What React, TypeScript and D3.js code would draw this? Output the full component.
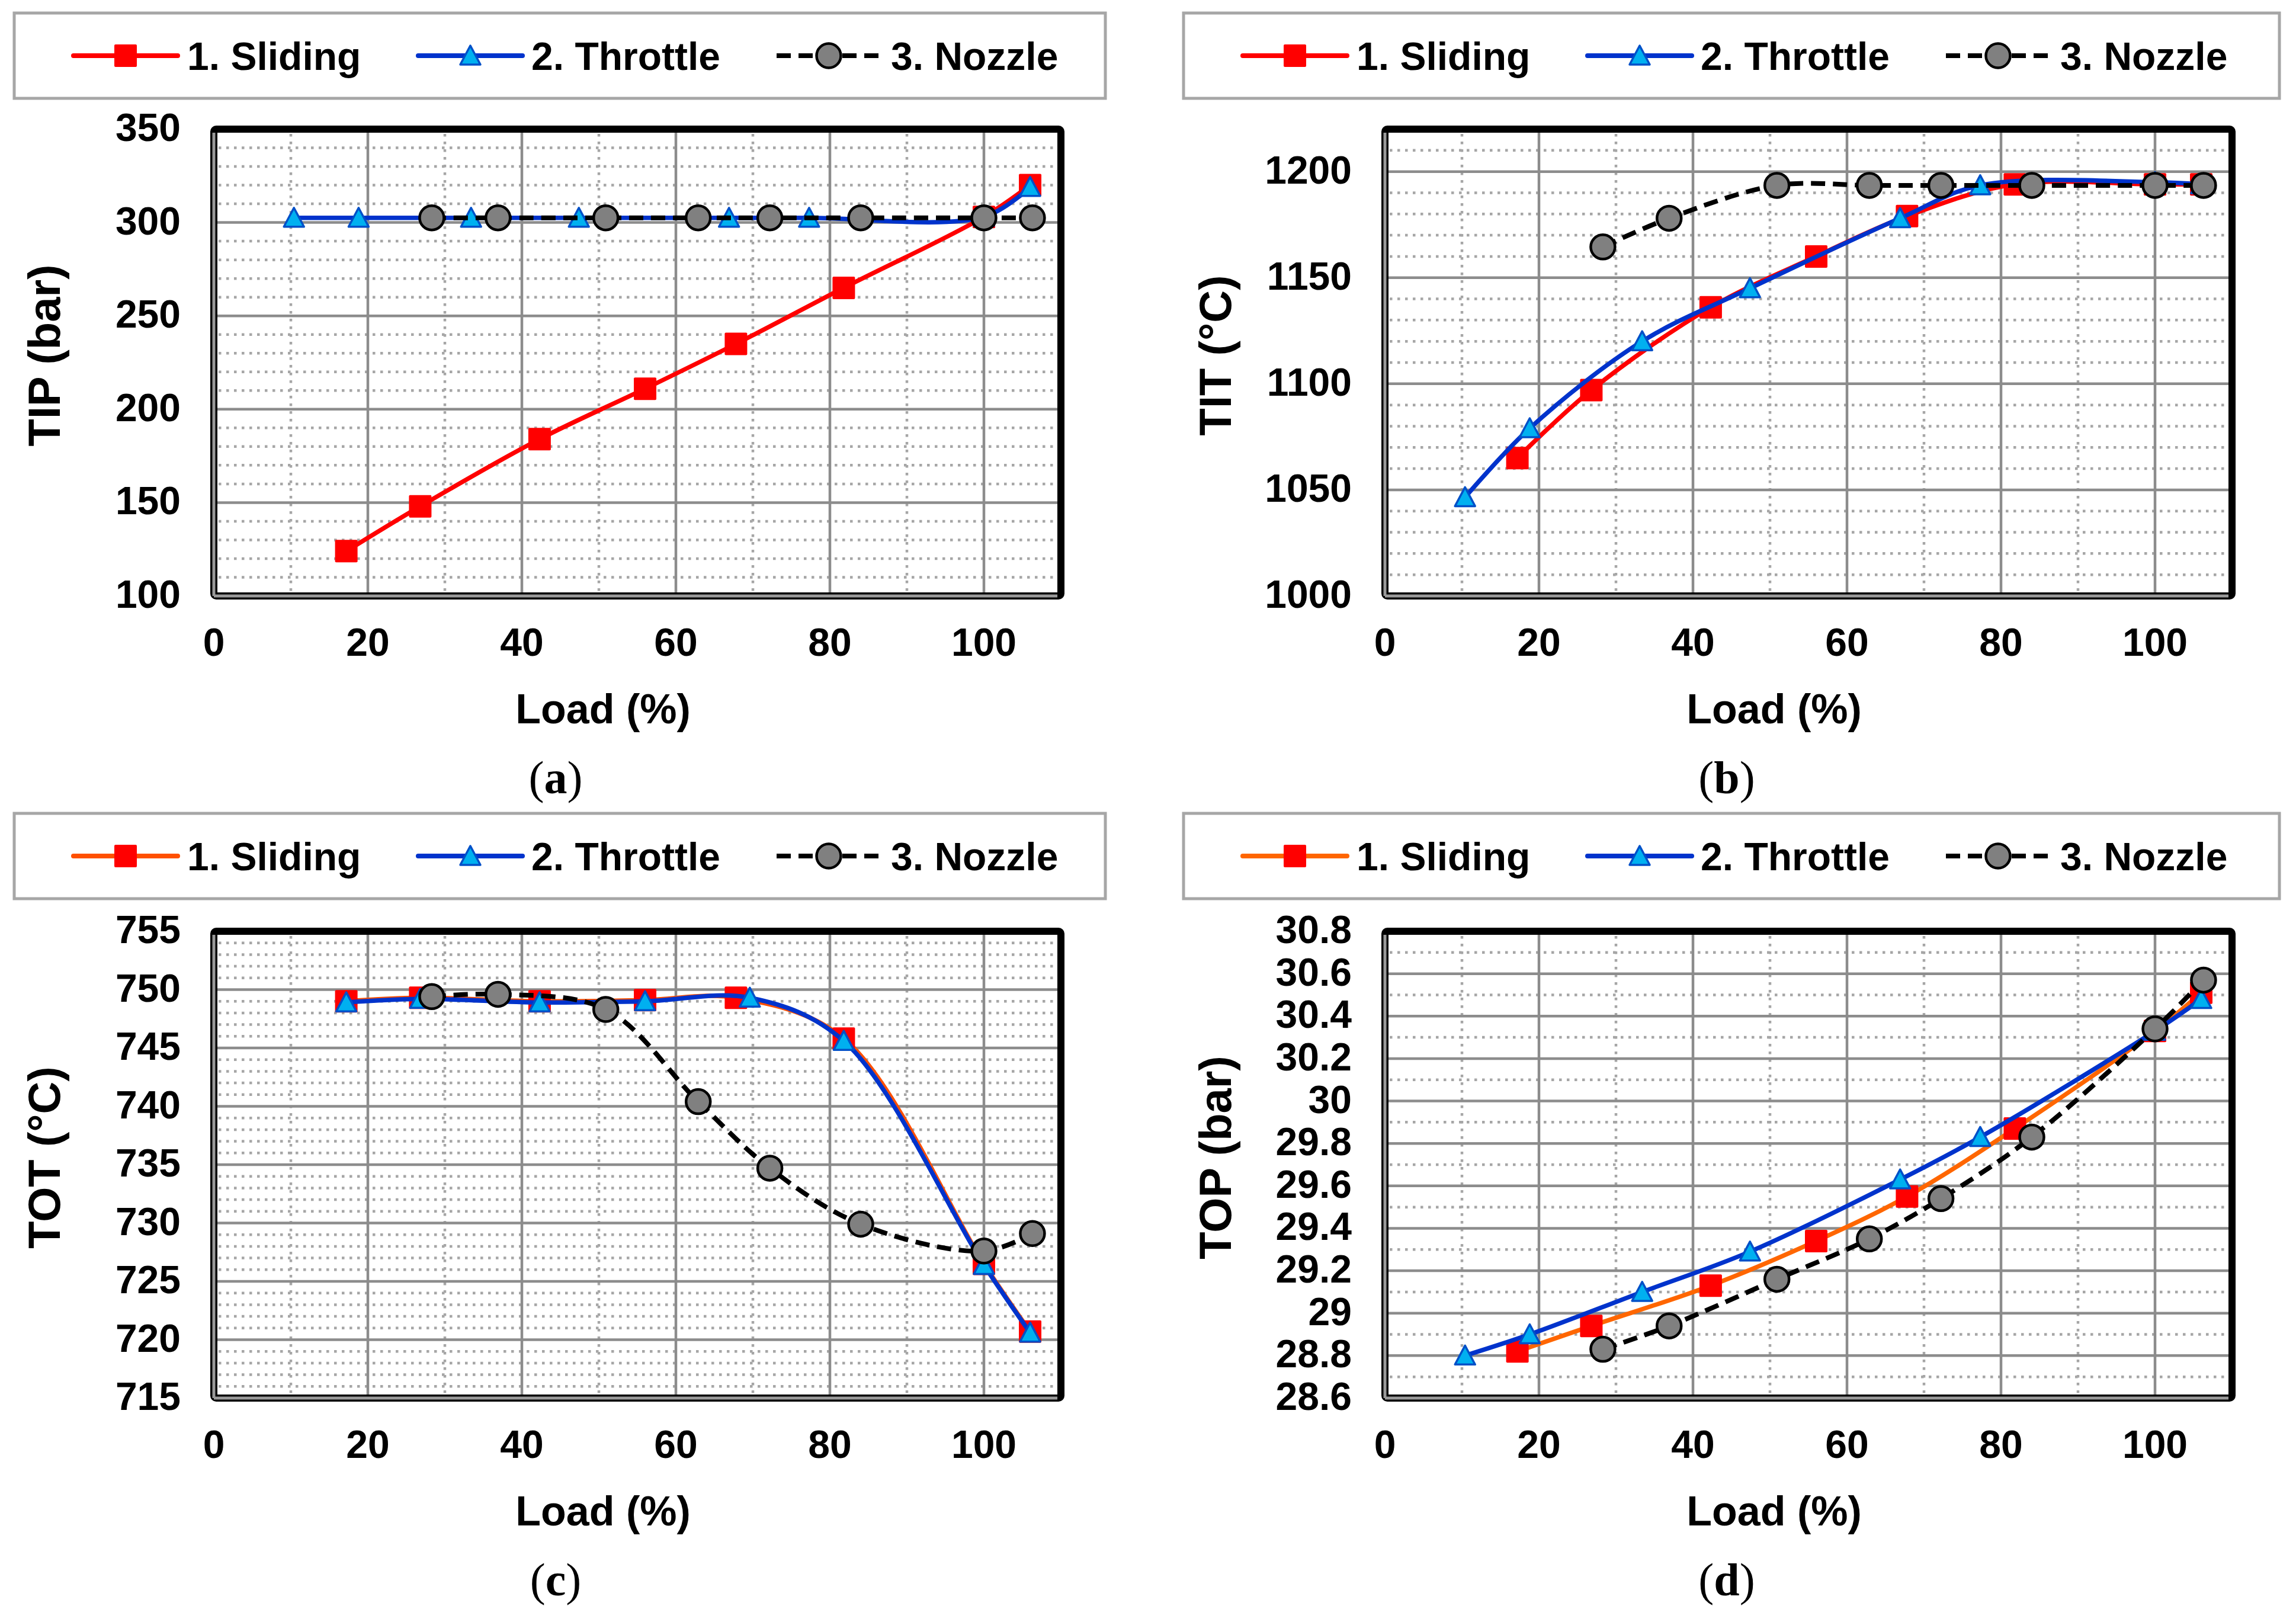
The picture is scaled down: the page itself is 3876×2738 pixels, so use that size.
import * as d3 from "d3";

const W = 3876;
const H = 2738;
const FONT = "'Liberation Sans', Arial, Helvetica, sans-serif";
const SERIF = "'Liberation Serif', 'Times New Roman', serif";

// load (%) positions
const loadSliding = [17.2, 26.8, 42.3, 56.0, 67.8, 81.8, 100, 106];
const loadThrottle = [10.4, 18.8, 33.4, 47.4, 66.9, 77.3, 100, 106];
const loadThrottleTot = [17.2, 26.8, 42.3, 56.0, 69.6, 81.8, 100, 106];
const loadNozzle = [28.3, 36.9, 50.9, 62.9, 72.2, 84.0, 100, 106.3];

// (a) TIP (bar)
const tipSliding = [124, 148, 184, 211, 235, 265, 303, 320];
const tipThrottle = [302.5, 302.5, 302.5, 302.5, 302.5, 302.5, 303, 319];
const tipNozzle = [302.5, 302.5, 302.5, 302.5, 302.5, 302.5, 302.5, 302.5];
const tipTicks = [100, 150, 200, 250, 300, 350];

// (b) TIT (°C)
const titSliding = [1065, 1097, 1136, 1160, 1179, 1194, 1194, 1194];
const titThrottle = [1046.5, 1079, 1120, 1145, 1178, 1193.5, 1195, 1194];
const titNozzle = [1164.5, 1178, 1193.5, 1193.5, 1193.5, 1193.5, 1193.5, 1193.5];
const titTicks = [1000, 1050, 1100, 1150, 1200];

// (c) TOT (°C)
const totSliding = [749.0, 749.3, 749.0, 749.1, 749.3, 745.8, 726.5, 720.7];
const totThrottle = [748.9, 749.2, 748.9, 749.0, 749.3, 745.6, 726.4, 720.6];
const totNozzle = [749.4, 749.6, 748.3, 740.4, 734.7, 729.9, 727.6, 729.1];
const totTicks = [715, 720, 725, 730, 735, 740, 745, 750, 755];

// (d) TOP (bar)
const topSliding = [28.82, 28.94, 29.13, 29.34, 29.55, 29.87, 30.33, 30.51];
const topThrottle = [28.8, 28.9, 29.1, 29.29, 29.63, 29.83, 30.33, 30.48];
const topNozzle = [28.83, 28.94, 29.16, 29.35, 29.54, 29.83, 30.34, 30.57];
const topTicks = [28.6, 28.8, 29, 29.2, 29.4, 29.6, 29.8, 30, 30.2, 30.4, 30.6, 30.8];

const xTicks = [0, 20, 40, 60, 80, 100];
const legendLabels = ["1. Sliding", "2. Throttle", "3. Nozzle"];

const RED = "#ff0000";
const BLUE = "#0033cc";
const CYAN = "#00b0f0";
const GREY = "#808080";
const DASH = "24 13";

interface PanelSpec {
  letter: string;
  yTitle: string;
  yDomain: [number, number];
  yTicks: number[];
  yMinor: number;
  slidingColor: string;
  sliding: [number[], number[]];
  throttle: [number[], number[]];
  nozzle: [number[], number[]];
  col: number;
  row: number;
}

const panels: PanelSpec[] = [
  {
    letter: "a", yTitle: "TIP (bar)", yDomain: [100, 350], yTicks: tipTicks, yMinor: 10,
    slidingColor: RED,
    sliding: [loadSliding, tipSliding], throttle: [loadThrottle, tipThrottle], nozzle: [loadNozzle, tipNozzle],
    col: 0, row: 0,
  },
  {
    letter: "b", yTitle: "TIT (°C)", yDomain: [1000, 1220], yTicks: titTicks, yMinor: 10,
    slidingColor: RED,
    sliding: [loadSliding, titSliding], throttle: [loadThrottle, titThrottle], nozzle: [loadNozzle, titNozzle],
    col: 1, row: 0,
  },
  {
    letter: "c", yTitle: "TOT (°C)", yDomain: [715, 755], yTicks: totTicks, yMinor: 1,
    slidingColor: "#ff5000",
    sliding: [loadSliding, totSliding], throttle: [loadThrottleTot, totThrottle], nozzle: [loadNozzle, totNozzle],
    col: 0, row: 1,
  },
  {
    letter: "d", yTitle: "TOP (bar)", yDomain: [28.6, 30.8], yTicks: topTicks, yMinor: 0.1,
    slidingColor: "#ff6600",
    sliding: [loadSliding, topSliding], throttle: [loadThrottle, topThrottle], nozzle: [loadNozzle, topNozzle],
    col: 1, row: 1,
  },
];

const COL_LEFT = [361, 2338];
const PLOT_W = 1430;
const ROW_TOP = [218, 1572];
const PLOT_H = 788;
const LEGEND_X = [24, 1998];
const LEGEND_W = [1842, 1850];
const LEGEND_Y = [22, 1373];
const LEGEND_H = 144;

const fmt = (v: number) => String(+v.toFixed(2));

function Square({ x, y }: { x: number; y: number }) {
  return <rect x={x - 19} y={y - 19} width={38} height={38} rx={2} fill={RED} />;
}

function Triangle({ x, y }: { x: number; y: number }) {
  return (
    <path
      d={`M${x},${y - 17} L${x + 17},${y + 15} L${x - 17},${y + 15} Z`}
      fill={CYAN}
      stroke="#0050c8"
      strokeWidth={3.5}
      strokeLinejoin="round"
    />
  );
}

function Dot({ x, y }: { x: number; y: number }) {
  return <circle cx={x} cy={y} r={20.5} fill={GREY} stroke="#000" strokeWidth={4.5} />;
}

function Panel({ p }: { p: PanelSpec }) {
  const left = COL_LEFT[p.col];
  const right = left + PLOT_W;
  const top = ROW_TOP[p.row];
  const bottom = top + PLOT_H;

  const x = d3.scaleLinear().domain([0, 110]).range([left, right]);
  const y = d3.scaleLinear().domain(p.yDomain).range([bottom, top]);

  const line = d3
    .line<[number, number]>()
    .x((d) => x(d[0]))
    .y((d) => y(d[1]))
    .curve(d3.curveCatmullRom.alpha(0.5));

  const pts = (s: [number[], number[]]) => s[0].map((l, i) => [l, s[1][i]] as [number, number]);

  const [y0, y1] = p.yDomain;
  const nMinor = Math.round((y1 - y0) / p.yMinor);
  const minorY = d3.range(1, nMinor).map((i) => y0 + i * p.yMinor)
    .filter((v) => !p.yTicks.some((t) => Math.abs(t - v) < p.yMinor / 10));
  const majorY = p.yTicks.filter((t) => t > y0 && t < y1);
  const minorX = [10, 30, 50, 70, 90];
  const majorX = [20, 40, 60, 80, 100];

  // legend
  const lx = LEGEND_X[p.col];
  const ly = LEGEND_Y[p.row];
  const cy = ly + LEGEND_H / 2;
  const items = [
    { lineStart: 100, textStart: 292, color: p.slidingColor, dash: undefined, marker: "sq" },
    { lineStart: 682, textStart: 873, color: BLUE, dash: undefined, marker: "tri" },
    { lineStart: 1287, textStart: 1480, color: "#000", dash: DASH, marker: "dot" },
  ];

  return (
    <g>
      {/* legend box */}
      <rect x={lx} y={ly} width={LEGEND_W[p.col]} height={LEGEND_H} fill="#fff" stroke="#a6a6a6" strokeWidth={5} />
      {items.map((it, i) => {
        const xs = lx + it.lineStart;
        const mx = xs + 88;
        return (
          <g key={i}>
            <line x1={xs} x2={xs + 176} y1={cy} y2={cy} stroke={it.color} strokeWidth={8} strokeDasharray={it.dash} strokeLinecap={it.dash ? "butt" : "round"} />
            {it.marker === "sq" && <Square x={mx} y={cy} />}
            {it.marker === "tri" && <Triangle x={mx} y={cy} />}
            {it.marker === "dot" && <Dot x={mx} y={cy} />}
            <text x={lx + it.textStart} y={cy + 24} fontFamily={FONT} fontWeight="bold" fontSize={66} fill="#000">
              {legendLabels[i]}
            </text>
          </g>
        );
      })}

      {/* plot background & grid */}
      <rect x={left} y={top} width={PLOT_W} height={PLOT_H} fill="#fff" />
      {minorY.map((v) => (
        <line key={`my${v}`} x1={left + 8} x2={right - 8} y1={y(v)} y2={y(v)} stroke="#a6a6a6" strokeWidth={4.5} strokeDasharray="4.5 8.5" />
      ))}
      {minorX.map((v) => (
        <line key={`mx${v}`} x1={x(v)} x2={x(v)} y1={top + 8} y2={bottom - 8} stroke="#a6a6a6" strokeWidth={4.5} strokeDasharray="4.5 8.5" />
      ))}
      {majorY.map((v) => (
        <line key={`My${v}`} x1={left} x2={right} y1={y(v)} y2={y(v)} stroke="#8c8c8c" strokeWidth={4.5} />
      ))}
      {majorX.map((v) => (
        <line key={`Mx${v}`} x1={x(v)} x2={x(v)} y1={top} y2={bottom} stroke="#8c8c8c" strokeWidth={4.5} />
      ))}

      {/* frame: heavy black top/right, black-grey-black left/bottom */}
      <rect x={left} y={top} width={PLOT_W} height={PLOT_H} fill="none" stroke="#000" strokeWidth={12} rx={4} />
      <line x1={left} x2={left} y1={top + 6} y2={bottom} stroke="#9a9a9a" strokeWidth={5} />
      <line x1={left} x2={right - 6} y1={bottom} y2={bottom} stroke="#9a9a9a" strokeWidth={5} />

      {/* series */}
      <path d={line(pts(p.sliding)) ?? ""} fill="none" stroke={p.slidingColor} strokeWidth={7.5} strokeLinejoin="round" />
      {pts(p.sliding).map((d, i) => <Square key={`s${i}`} x={x(d[0])} y={y(d[1])} />)}
      <path d={line(pts(p.throttle)) ?? ""} fill="none" stroke={BLUE} strokeWidth={7.5} strokeLinejoin="round" />
      {pts(p.throttle).map((d, i) => <Triangle key={`t${i}`} x={x(d[0])} y={y(d[1])} />)}
      <path d={line(pts(p.nozzle)) ?? ""} fill="none" stroke="#000" strokeWidth={8} strokeDasharray={DASH} />
      {pts(p.nozzle).map((d, i) => <Dot key={`n${i}`} x={x(d[0])} y={y(d[1])} />)}

      {/* axes labels */}
      {p.yTicks.map((t) => (
        <text key={`yl${t}`} x={left - 56} y={y(t) + 20} textAnchor="end" fontFamily={FONT} fontWeight="bold" fontSize={66} fill="#000">
          {fmt(t)}
        </text>
      ))}
      {xTicks.map((t) => (
        <text key={`xl${t}`} x={x(t)} y={bottom + 101} textAnchor="middle" fontFamily={FONT} fontWeight="bold" fontSize={66} fill="#000">
          {t}
        </text>
      ))}
      <text x={left + 657} y={bottom + 215} textAnchor="middle" fontFamily={FONT} fontWeight="bold" fontSize={70} fill="#000">
        Load (%)
      </text>
      <text
        transform={`translate(${left - 260},${(top + bottom) / 2 - 12}) rotate(-90)`}
        textAnchor="middle"
        fontFamily={FONT}
        fontWeight="bold"
        fontSize={76}
        fill="#000"
      >
        {p.yTitle}
      </text>
      <text x={left + 577} y={bottom + 333} textAnchor="middle" fontFamily={SERIF} fontSize={78} fill="#000">
        (<tspan fontWeight="bold">{p.letter}</tspan>)
      </text>
    </g>
  );
}

export default function App() {
  return (
    <svg
      width={W}
      height={H}
      viewBox={`0 0 ${W} ${H}`}
      style={{ position: "absolute", left: 0, top: 0, display: "block", background: "#fff" }}
    >
      <rect width={W} height={H} fill="#fff" />
      {panels.map((p) => (
        <Panel key={p.letter} p={p} />
      ))}
    </svg>
  );
}
